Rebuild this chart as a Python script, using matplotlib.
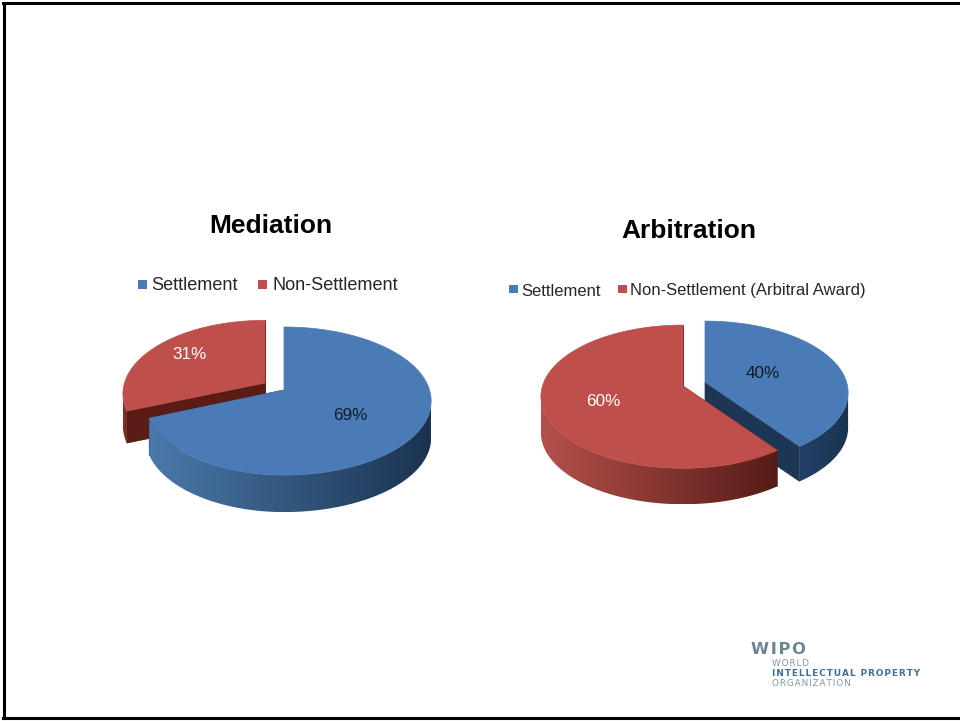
import numpy as np
import matplotlib.pyplot as plt
from matplotlib.patches import Polygon, Rectangle
from matplotlib.colors import to_rgb

plt.rcParams['font.family'] = ['Liberation Sans', 'DejaVu Sans']

med_labels = ["Settlement", "Non-Settlement"]
med_values = [69, 31]
arb_labels = ["Settlement", "Non-Settlement (Arbitral Award)"]
arb_values = [40, 60]

BLUE = "#4a7bb7"
RED = "#bf4f4b"
BLUE_SIDE = ("#4a79aa", "#1b3350")
RED_SIDE = ("#b5504b", "#561c17")
BLUE_CUT = "#1d3655"
RED_CUT = "#5a1d16"
K = 0.149  # perspective


def project(cx, cy, rx, ry, a, rx_left=None):
    x = np.sin(a)
    y = -np.cos(a)
    if rx_left is None:
        rx_left = rx
    w = np.where(x < 0, rx_left, rx)
    return cx + w * x / (1 - K * y), cy + ry * y / (1 - K * y)


def draw_slice(ax, cx, cy, rx, ry, depth, a0, a1, top, side, cut, zbase, rx_left=None):
    ang = np.linspace(a0, a1, 400)
    px, py = project(cx, cy, rx, ry, ang, rx_left)
    # cut faces
    for a in (a0, a1):
        ox, oy = project(cx, cy, rx, ry, a, rx_left)
        ax.add_patch(Polygon([(cx, cy), (ox, oy), (ox, oy + depth), (cx, cy + depth)],
                             fc=cut, ec=cut, lw=0.5, zorder=zbase))
    # outer wall, only the part that faces the viewer, shaded left to right
    a_r = np.arccos(-K)
    front = (ang >= a_r) & (ang <= 2 * np.pi - a_r)
    fx, fy = px[front], py[front]
    wall = Polygon(np.vstack([np.column_stack([fx, fy]), np.column_stack([fx, fy + depth])[::-1]]),
                   fc="none", ec="none", zorder=zbase + 0.1)
    ax.add_patch(wall)
    grad = np.linspace(to_rgb(side[0]), to_rgb(side[1]), 256)[np.newaxis, :, :]
    im = ax.imshow(grad, extent=(fx.min(), fx.max(), fy.max() + depth, fy.min()),
                   aspect="auto", interpolation="bilinear", zorder=zbase + 0.1)
    im.set_clip_path(wall)
    # top
    ax.add_patch(Polygon(np.vstack([[cx, cy], np.column_stack([px, py])]),
                         fc=top, ec=top, lw=0.5, zorder=zbase + 0.2))


def legend_item(ax, x, y, size, color, label, fs, tx):
    ax.add_patch(Rectangle((x, y - size / 2), size, size, fc=color, ec="none"))
    ax.text(tx, y + 6.5, label, fontsize=fs, color="#262626", va="baseline", ha="left")


def spaced(s):
    return "\u200a".join(s)


fig = plt.figure(figsize=(9.6, 7.21), dpi=100)
ax = fig.add_axes([0, 0, 1, 1])
ax.axis("off")

# frame
ax.plot([4, 4], [3, 718], color="black", lw=2.2)
ax.plot([3, 960], [3, 3], color="black", lw=2.2)
ax.plot([3, 960], [718, 718], color="black", lw=2.2)

# Mediation pie, slices run clockwise from 12 o'clock
med_end = 2 * np.pi * med_values[0] / sum(med_values)
draw_slice(ax, 265, 383, 140.5, 72, 32, med_end, 2 * np.pi, RED, ("#8a332e", "#6a2320"), RED_CUT, 2)
draw_slice(ax, 284, 390, 145.5, 72.4, 37, 0, med_end, BLUE, BLUE_SIDE, BLUE_CUT, 3, rx_left=137)

# Arbitration pie
arb_end = 2 * np.pi * arb_values[0] / sum(arb_values)
draw_slice(ax, 705, 382, 141.5, 70, 35, 0, arb_end, BLUE, ("#24406a", "#1b3350"), BLUE_CUT, 2)
draw_slice(ax, 683, 386, 141, 70, 36, arb_end, 2 * np.pi, RED, RED_SIDE, RED_CUT, 3, rx_left=140.5)

ax.set_xlim(0, 960)
ax.set_ylim(721, 0)

# titles
ax.text(271, 233, "Mediation", fontsize=19, fontweight="bold", color="black", ha="center", va="baseline")
ax.text(689, 238, "Arbitration", fontsize=19, fontweight="bold", color="black", ha="center", va="baseline")

# legends
legend_item(ax, 138, 284, 9, BLUE, med_labels[0], 13.1, 151)
legend_item(ax, 258, 284, 9, RED, med_labels[1], 13.1, 272)
legend_item(ax, 509, 289, 8.5, BLUE, arb_labels[0], 12, 521)
legend_item(ax, 618, 289, 8.5, RED, arb_labels[1], 12, 630)

# value labels
ax.text(350, 420, f"{med_values[0]}%", fontsize=12.3, color="#111a24", ha="center", va="baseline", zorder=10)
ax.text(190, 359, f"{med_values[1]}%", fontsize=12.3, color="white", ha="center", va="baseline", zorder=10)
ax.text(763, 378, f"{arb_values[0]}%", fontsize=12.3, color="#111a24", ha="center", va="baseline", zorder=10)
ax.text(603, 406, f"{arb_values[1]}%", fontsize=12.3, color="white", ha="center", va="baseline", zorder=10)

# logo
ax.text(751, 649, spaced("WIPO"), fontsize=11.8, fontweight="bold", color="#6d8494",
        family="DejaVu Sans", ha="left", va="center")
ax.text(772, 664, spaced("WORLD"), fontsize=6.4, color="#7f97a8", family="DejaVu Sans", ha="left", va="center")
ax.text(772, 674, spaced("INTELLECTUAL PROPERTY"), fontsize=6.5, fontweight="bold", color="#3f7099",
        family="DejaVu Sans", ha="left", va="center")
ax.text(772, 684, spaced("ORGANIZATION"), fontsize=6.4, color="#7f97a8", family="DejaVu Sans", ha="left", va="center")

plt.savefig("out.png", dpi=100)
